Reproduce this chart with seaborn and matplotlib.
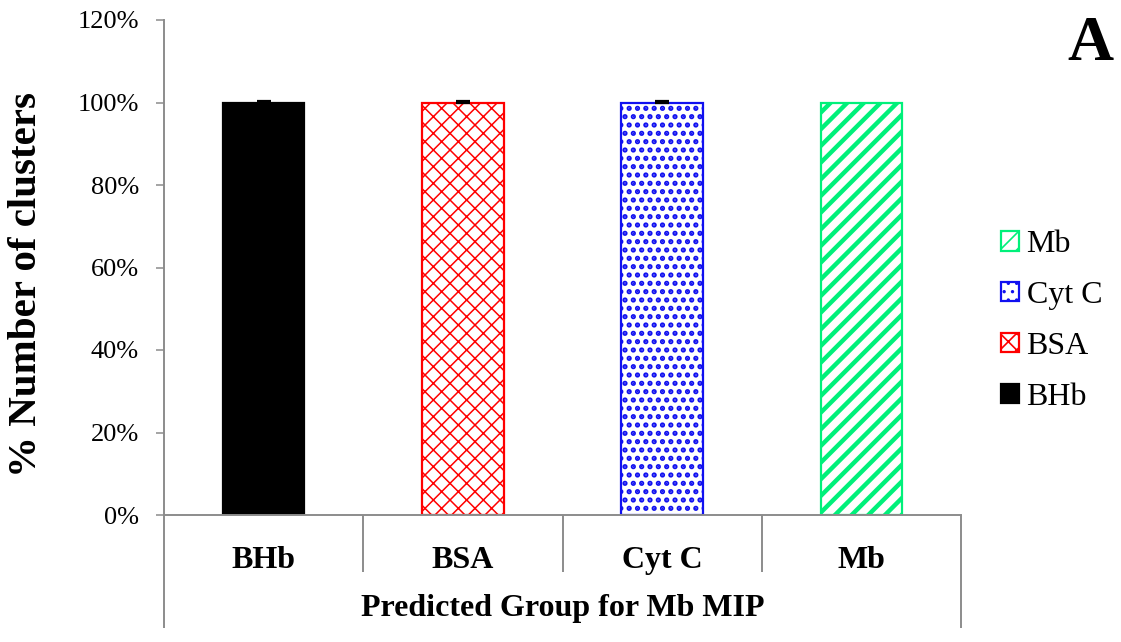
import numpy as np
import pandas as pd
import matplotlib
matplotlib.use("Agg")
import matplotlib.pyplot as plt
import matplotlib.transforms as mtransforms
from matplotlib.patches import Patch
from matplotlib.ticker import FuncFormatter
import seaborn as sns

# Predicted group (x) and percentage of clusters assigned to each protein
categories = ["BHb", "BSA", "Cyt C", "Mb"]
bhb = [100, 0, 0, 0]
bsa = [0, 100, 0, 0]
cyt_c = [0, 0, 100, 0]
mb = [0, 0, 0, 100]
errors = [0.4, 0.4, 0.4, 0.0]
y_ticks = [0, 20, 40, 60, 80, 100, 120]
x_title = "Predicted Group for Mb MIP"
y_title = "% Number of clusters"
panel_tag = "A"

sns.set_theme(style="white")
plt.rcParams["font.family"] = ["Liberation Serif", "DejaVu Serif"]
plt.rcParams["text.color"] = "black"
plt.rcParams["axes.labelcolor"] = "black"
plt.rcParams["xtick.labelcolor"] = "black"
plt.rcParams["ytick.labelcolor"] = "black"
plt.rcParams["hatch.linewidth"] = 1.2

series = {"BHb": bhb, "BSA": bsa, "Cyt C": cyt_c, "Mb": mb}
rows = []
for name, vals in series.items():
    for cat, v in zip(categories, vals):
        rows.append({"group": cat, "protein": name, "value": v})
df = pd.DataFrame(rows)
df = df[df["value"] > 0]

styles = {
    "BHb": dict(face="#000000", edge="#000000", hatch=None, hlw=1.0),
    "BSA": dict(face="#FFFFFF", edge="#FF0000", hatch="xx", hlw=1.1),
    "Cyt C": dict(face="#FFFFFF", edge="#1010F0", hatch="..", hlw=2.5),
    "Mb": dict(face="#FFFFFF", edge="#00F07A", hatch="//", hlw=3.2),
}

fig = plt.figure(figsize=(11.21, 6.42), dpi=100)
ax = fig.add_axes([164 / 1121, 1 - 515 / 642, (961 - 164) / 1121, (515 - 20) / 642])

sns.barplot(data=df, x="group", y="value", hue="protein", order=categories,
            hue_order=list(series.keys()), dodge=False, width=0.41,
            errorbar=None, legend=False, ax=ax, zorder=2)

# style each bar by the protein it belongs to
for cont, name in zip(ax.containers, series.keys()):
    st = styles[name]
    for bar in cont:
        bar.set_facecolor(st["face"])
        bar.set_edgecolor(st["edge"])
        bar.set_linewidth(1.6)
        if st["hatch"]:
            bar.set_hatch(st["hatch"])
            if hasattr(bar, "set_hatch_linewidth"):
                bar.set_hatch_linewidth(st["hlw"])

# small upper error bars
totals = np.array(bhb) + np.array(bsa) + np.array(cyt_c) + np.array(mb)
err = np.array(errors)
xs = np.arange(len(categories))
m = err > 0
ax.errorbar(xs[m], totals[m], yerr=[np.zeros(m.sum()), err[m]], fmt="none",
            ecolor="black", elinewidth=1.2, capsize=4.8, capthick=1.6, zorder=3)

ax.set_xlim(-0.5, len(categories) - 0.5)
ax.set_ylim(0, 120)
ax.set_yticks(y_ticks)
ax.yaxis.set_major_formatter(FuncFormatter(lambda v, _: f"{v:.0f}%"))
ax.tick_params(axis="y", which="major", direction="out", length=6, width=1.1,
               color="#8C8C8C", labelsize=19, pad=12, left=True, labelcolor="black")

ax.set_xticks(xs)
ax.set_xticklabels(categories, fontsize=23, fontweight="bold")
ax.tick_params(axis="x", length=0, pad=22, labelcolor="black")

for side in ["top", "right"]:
    ax.spines[side].set_visible(False)
for side in ["left", "bottom"]:
    ax.spines[side].set_color("#8C8C8C")
    ax.spines[side].set_linewidth(1.4)

# category divider lines of the multi-level axis
trans = mtransforms.blended_transform_factory(ax.transData, ax.transAxes)
for xb in np.arange(-0.5, len(categories), 1.0):
    outer = xb < 0 or xb > len(categories) - 1
    ax.plot([xb, xb], [0, -0.228 if outer else -0.115], transform=trans,
            color="#8C8C8C", lw=1.4, clip_on=False, solid_capstyle="butt")

ax.set_xlabel(x_title, fontsize=23, fontweight="bold", color="black")
ax.xaxis.set_label_coords(0.5, -0.188)
ax.xaxis.label.set_va("center")

ax.set_ylabel(y_title, fontsize=29.5, fontweight="bold", color="black")
ax.yaxis.set_label_coords(-0.172, 0.465)
ax.yaxis.label.set_va("center")

fig.text(1090 / 1121, 1 - 45 / 642, panel_tag, fontsize=46, fontweight="bold",
         ha="center", va="center", color="black")

handles = []
for name in ["Mb", "Cyt C", "BSA", "BHb"]:
    st = styles[name]
    h = Patch(facecolor=st["face"], edgecolor=st["edge"], hatch=st["hatch"],
              linewidth=1.6, label=name)
    handles.append(h)
fig.legend(handles=handles, loc="center left",
           bbox_to_anchor=(1001 / 1121, 1 - 321 / 642), frameon=False,
           fontsize=23, handlelength=0.55, handleheight=0.55, handletextpad=0.25,
           labelspacing=0.68, borderpad=0.0, borderaxespad=0.0)

fig.savefig("out.png", dpi=100)
